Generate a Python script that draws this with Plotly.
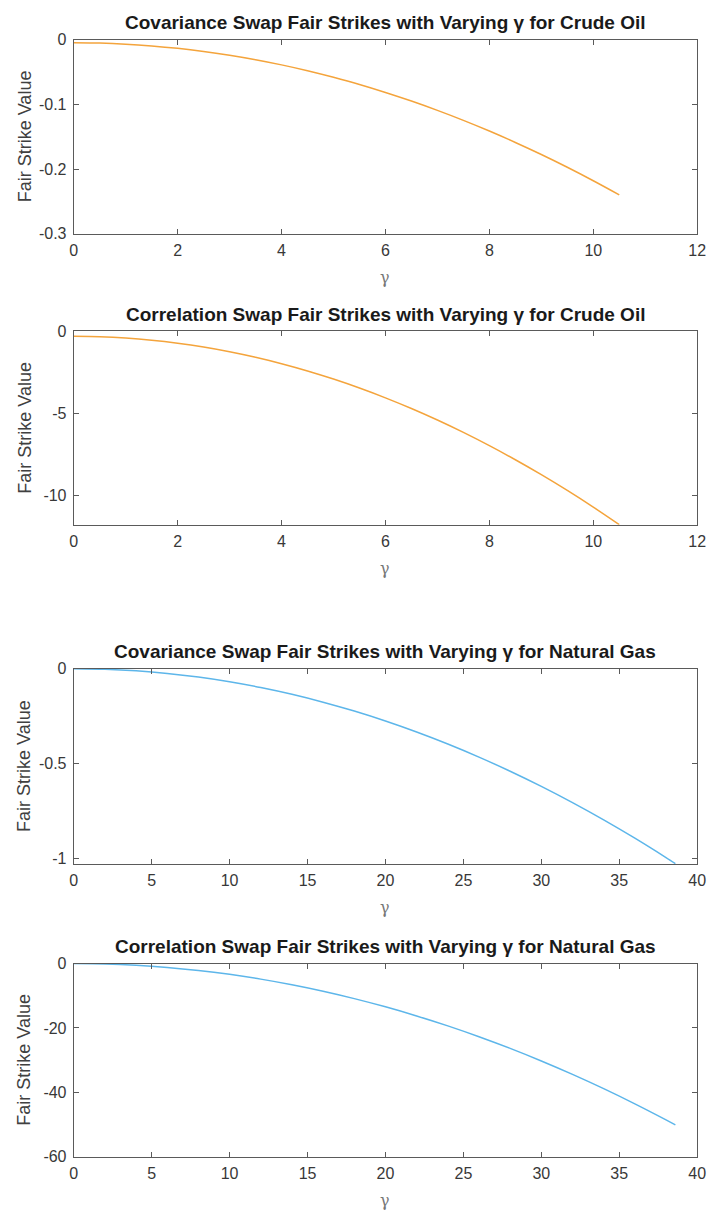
import plotly.graph_objects as go

# Crude oil: gamma grid and fair strikes
gamma_crude = [0, 0.5, 1, 1.5, 2, 2.5, 3, 3.5, 4, 4.5, 5, 5.5, 6, 6.5, 7, 7.5,
               8, 8.5, 9, 9.5, 10, 10.5]
cov_crude = [-0.005, -0.0055, -0.0071, -0.0098, -0.0135, -0.0183, -0.0242,
             -0.0311, -0.0391, -0.0481, -0.0583, -0.0694, -0.0817, -0.0950,
             -0.1094, -0.1248, -0.1413, -0.1589, -0.1775, -0.1972, -0.2180,
             -0.2398]
corr_crude = [-0.30, -0.326, -0.404, -0.534, -0.716, -0.949, -1.235, -1.573,
              -1.962, -2.404, -2.898, -3.443, -4.040, -4.690, -5.391, -6.144,
              -6.950, -7.807, -8.716, -9.677, -10.690, -11.755]

# Natural gas: gamma grid and fair strikes
gamma_gas = [0, 2, 4, 6, 8, 10, 12, 14, 16, 18, 20, 22, 24, 26, 28, 30, 32,
             34, 36, 38, 38.6]
cov_gas = [0, -0.0028, -0.0110, -0.0248, -0.0442, -0.0690, -0.0994, -0.1352,
           -0.1766, -0.2236, -0.2760, -0.3340, -0.3974, -0.4664, -0.5410,
           -0.6210, -0.7066, -0.7976, -0.8942, -0.9964, -1.0281]
corr_gas = [0, -0.134, -0.538, -1.210, -2.150, -3.36, -4.84, -6.59, -8.60,
            -10.89, -13.44, -16.26, -19.35, -22.71, -26.34, -30.24, -34.41,
            -38.84, -43.55, -48.52, -50.06]

# Tick positions and labels
xt_crude = [0, 2, 4, 6, 8, 10, 12]
xt_gas = [0, 5, 10, 15, 20, 25, 30, 35, 40]
yt_cov_crude = [-0.3, -0.2, -0.1, 0]
yl_cov_crude = ["-0.3", "-0.2", "-0.1", "0"]
yt_corr_crude = [-10, -5, 0]
yl_corr_crude = ["-10", "-5", "0"]
yt_cov_gas = [-1, -0.5, 0]
yl_cov_gas = ["-1", "-0.5", "0"]
yt_corr_gas = [-60, -40, -20, 0]
yl_corr_gas = ["-60", "-40", "-20", "0"]

titles = [
    "Covariance Swap Fair Strikes with Varying \u03b3 for Crude Oil",
    "Correlation Swap Fair Strikes with Varying \u03b3 for Crude Oil",
    "Covariance Swap Fair Strikes with Varying \u03b3 for Natural Gas",
    "Correlation Swap Fair Strikes with Varying \u03b3 for Natural Gas",
]

W, H = 717, 1224
ORANGE = "#F4A43C"
BLUE = "#5DB6EA"
AXIS = "#5a5a5a"
TEXT = "#383838"
FONT = "Liberation Sans, Arial, Helvetica, sans-serif"

# pixel boxes of the four panels: (top, bottom)
boxes = [(32, 229), (328, 524), (670, 868), (969, 1165)]
x_left, x_right = 71, 706

panels = [
    (gamma_crude, cov_crude, ORANGE, [0, 12], xt_crude, [-0.3, 0],
     yt_cov_crude, yl_cov_crude),
    (gamma_crude, corr_crude, ORANGE, [0, 12], xt_crude, [-11.76, 0],
     yt_corr_crude, yl_corr_crude),
    (gamma_gas, cov_gas, BLUE, [0, 40], xt_gas, [-1.03, 0],
     yt_cov_gas, yl_cov_gas),
    (gamma_gas, corr_gas, BLUE, [0, 40], xt_gas, [-60, 0],
     yt_corr_gas, yl_corr_gas),
]

fig = go.Figure()
layout = dict(
    width=W, height=H,
    margin=dict(l=0, r=0, t=0, b=0),
    paper_bgcolor="white", plot_bgcolor="white",
    showlegend=False,
    font=dict(family=FONT, size=16, color=TEXT),
)
annotations = []


def py(p):
    return 1 - p / H


for i, (gx, gy, color, xr, xt, yr, yt, yl) in enumerate(panels):
    n = "" if i == 0 else str(i + 1)
    top, bot = boxes[i]
    fig.add_trace(go.Scatter(x=gx, y=gy, mode="lines",
                             line=dict(color=color, width=1.5, shape="spline",
                                       smoothing=0.8),
                             xaxis="x" + n, yaxis="y" + n))
    common = dict(showline=True, linecolor=AXIS, linewidth=1, mirror="ticks",
                  ticks="inside", ticklen=5, tickcolor=AXIS, showgrid=False,
                  zeroline=False, tickfont=dict(family=FONT, size=16, color=TEXT))
    layout["xaxis" + n] = dict(common, domain=[x_left / W, x_right / W],
                               range=xr, tickvals=xt,
                               ticktext=[str(v) for v in xt], anchor="y" + n,
                               ticklabelstandoff=2)
    layout["yaxis" + n] = dict(common, domain=[py(bot), py(top)],
                               range=yr, tickvals=yt, ticktext=yl,
                               anchor="x" + n, ticklabelstandoff=3)
    cx = (x_left + x_right) / 2 / W
    annotations.append(dict(text="<b>" + titles[i] + "</b>", x=cx, y=py(top - 17),
                            xref="paper", yref="paper", showarrow=False,
                            xanchor="center", yanchor="middle",
                            font=dict(family=FONT, size=19, color="#1a1a1a")))
    annotations.append(dict(text="Fair Strike Value", x=21 / W,
                            y=py((top + bot) / 2), xref="paper", yref="paper",
                            showarrow=False, textangle=-90, xanchor="center",
                            yanchor="middle",
                            font=dict(family=FONT, size=18, color="#404040")))
    annotations.append(dict(text="\u03b3", x=cx, y=py(bot + 44),
                            xref="paper", yref="paper", showarrow=False,
                            xanchor="center", yanchor="middle",
                            font=dict(family="DejaVu Serif, serif", size=16,
                                      color="#777777")))

layout["annotations"] = annotations
fig.update_layout(**layout)
fig.write_html("out.html")
